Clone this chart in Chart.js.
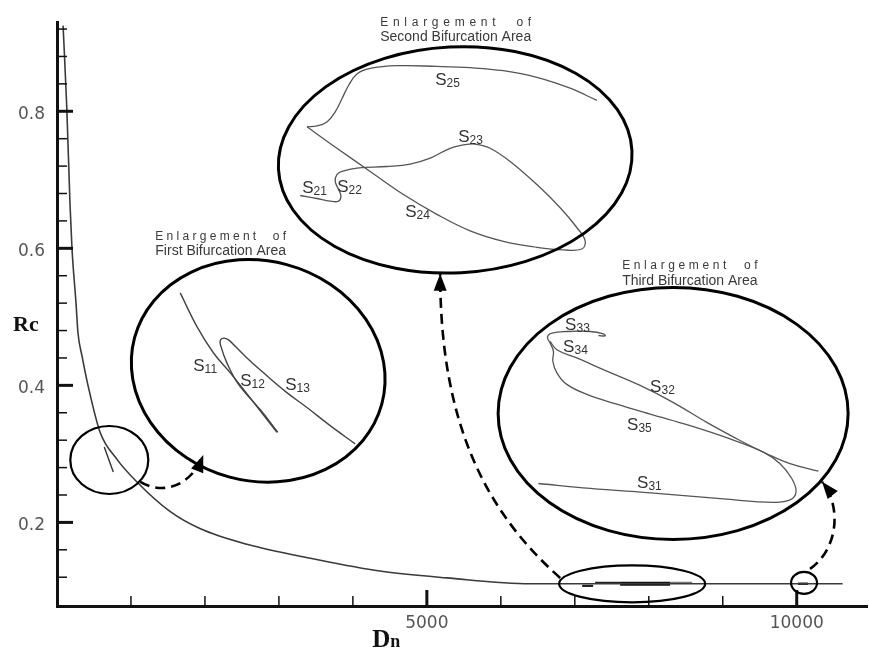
<!DOCTYPE html>
<html>
<head>
<meta charset="utf-8">
<script src="https://cdn.jsdelivr.net/npm/chart.js@4.4.1/dist/chart.umd.min.js"></script>
<style>
  html, body { margin: 0; padding: 0; background: #fff; }
  #wrap { width: 869px; height: 652px; position: relative; }
</style>
</head>
<body>
<div id="wrap"><canvas id="chart"></canvas></div>
<script>
// Critical value Rc against Dn, main branch
const dn = [82, 131, 176, 203, 257, 284, 338, 419, 581, 811, 1081, 1527, 1932, 2568, 3459, 4365, 5270, 6400, 7000, 10620];
const rc = [0.925, 0.809, 0.664, 0.599, 0.520, 0.476, 0.443, 0.400, 0.332, 0.292, 0.259, 0.216, 0.191, 0.168, 0.147, 0.129, 0.119, 0.1104, 0.1104, 0.1104];

// Short side branches on the main curve
const branchFirstDn = [639, 761];
const branchFirstRc = [0.3099, 0.2737];
const branchSecondA = [[7099, 0.1075], [7248, 0.1075]];
const branchSecondB = [[7275, 0.1118], [7613, 0.1118]];
const branchSecondC = [[7613, 0.1104], [8288, 0.1104]];
const branchSecondD = [[8288, 0.1118], [8586, 0.1118]];
const branchThird = [[10018, 0.1104], [10153, 0.1104]];

// Enlarged first bifurcation area (S11, S12, S13)
const s1Main = [[1666, 0.5350], [1892, 0.4858], [2116, 0.4472], [2342, 0.4183], [2522, 0.3942], [2747, 0.3629], [2973, 0.3316]];
const s1Loop = [[2985, 0.3316], [2760, 0.3629], [2454, 0.4014], [2297, 0.4328], [2216, 0.4569], [2207, 0.4656], [2252, 0.4689], [2319, 0.4664], [2410, 0.4569], [2568, 0.4400], [2792, 0.4183], [3108, 0.3894], [3379, 0.3677], [3693, 0.3412], [4031, 0.3146]];

// Enlarged second bifurcation area (S21 ... S25)
const s2Upper = [[3379, 0.7773], [3514, 0.7787], [3649, 0.7845], [3761, 0.7990], [3852, 0.8183], [3941, 0.8376], [4054, 0.8545], [4234, 0.8626], [4595, 0.8665], [5135, 0.8655], [5585, 0.8636], [6035, 0.8592], [6487, 0.8496], [6937, 0.8337], [7298, 0.8159]];
const s2Lower = [[3379, 0.7773], [3784, 0.7460], [4234, 0.7122], [4684, 0.6785], [5135, 0.6496], [5585, 0.6255], [6035, 0.6102], [6487, 0.6015], [6846, 0.5976], [7095, 0.5990], [7140, 0.6110], [7027, 0.6304], [6802, 0.6593], [6487, 0.6930], [6126, 0.7267], [5856, 0.7460], [5676, 0.7518], [5541, 0.7518], [5315, 0.7460], [5045, 0.7316], [4775, 0.7229], [4460, 0.7194], [4054, 0.7171], [3852, 0.7122], [3784, 0.7074], [3761, 0.6977], [3806, 0.6858], [3838, 0.6761], [3806, 0.6688], [3693, 0.6688], [3514, 0.6727], [3288, 0.6771]];

// Enlarged third bifurcation area (S31 ... S35)
const s3Long = [[6508, 0.2568], [7207, 0.2496], [8108, 0.2424], [9009, 0.2343], [9684, 0.2293], [9910, 0.2328], [9991, 0.2448], [9933, 0.2640], [9775, 0.2857], [9549, 0.3026], [9099, 0.3219], [8559, 0.3412], [8018, 0.3580], [7568, 0.3725], [7162, 0.3869], [6892, 0.4014], [6757, 0.4183], [6703, 0.4352], [6711, 0.4497], [6666, 0.4617], [6630, 0.4703], [6690, 0.4761], [6892, 0.4786], [7207, 0.4786], [7387, 0.4751], [7410, 0.4722], [7319, 0.4728]];
const s3Cross = [[6666, 0.4641], [6757, 0.4520], [7027, 0.4400], [7433, 0.4208], [7883, 0.3999], [8333, 0.3749], [8784, 0.3460], [9234, 0.3196], [9595, 0.3002], [9910, 0.2857], [10293, 0.2747]];

// Branch names: [letter, index, Dn, Rc]
const branchNames = [
  ['S', '11', 1842, 0.4212], ['S', '12', 2477, 0.3995], ['S', '13', 3085, 0.3937],
  ['S', '25', 5112, 0.8390], ['S', '23', 5423, 0.7552], ['S', '21', 3315, 0.6814], ['S', '22', 3788, 0.6829], ['S', '24', 4707, 0.6453],
  ['S', '33', 6869, 0.4805], ['S', '34', 6842, 0.4487], ['S', '32', 8018, 0.3908], ['S', '35', 7707, 0.3345], ['S', '31', 7842, 0.2506]
];

// Axis ticks
const xMajor = [5000, 10000];
const xMinor = [1000, 2000, 3000, 4000, 6000, 7000, 8000, 9000];
const yMajor = [0.2, 0.4, 0.6, 0.8];
const yMinor = [0.12, 0.16, 0.24, 0.28, 0.32, 0.36, 0.44, 0.48, 0.52, 0.56, 0.64, 0.68, 0.72, 0.76, 0.84, 0.88, 0.92];

// Outlines of the marked and enlarged regions (centre in Dn/Rc, radii in px)
const outlines = [
  { dn: 707, rc: 0.2911, rx: 39, ry: 34, rot: 0, w: 2.2 },
  { dn: 2720, rc: 0.4212, rx: 128, ry: 110, rot: 15, w: 3 },
  { dn: 5383, rc: 0.7291, rx: 177, ry: 113, rot: -3, w: 3 },
  { dn: 8329, rc: 0.3590, rx: 175, ry: 126, rot: 0, w: 3 },
  { dn: 7775, rc: 0.1104, rx: 73, ry: 18.5, rot: 0, w: 2.2 },
  { dn: 10099, rc: 0.1118, rx: 13, ry: 11, rot: 0, w: 2.2 }
];

// Dashed pointers from each marked region to its enlargement (cubic, Dn/Rc)
const pointers = [
  [[1126, 0.2593], [1464, 0.2376], [1829, 0.2564], [1977, 0.2983]],
  [[6802, 0.1190], [5788, 0.2159], [5180, 0.3460], [5180, 0.5629]],
  [[10180, 0.1321], [10559, 0.1610], [10613, 0.2231], [10342, 0.2593]]
];

const captions = [
  { dn: 1329, rc1: 0.6120, rc2: 0.5903, first: 'Enlargement  of', second: 'First Bifurcation Area' },
  { dn: 4369, rc1: 0.9243, rc2: 0.9026, first: 'Enlargement  of', second: 'Second Bifurcation Area' },
  { dn: 7640, rc1: 0.5701, rc2: 0.5470, first: 'Enlargement  of', second: 'Third Bifurcation Area' }
];

const toXY = arr => arr.map(p => ({ x: p[0], y: p[1] }));
const thin = (data, extra) => Object.assign({
  data: toXY(data), borderColor: '#555', borderWidth: 1.3, pointRadius: 0, tension: 0.4, fill: false
}, extra || {});

const datasets = [
  {
    data: dn.map((v, i) => ({ x: v, y: rc[i] })),
    borderColor: '#3a3a3a', borderWidth: 1.6, pointRadius: 0, fill: false,
    cubicInterpolationMode: 'monotone'
  },
  {
    data: branchFirstDn.map((v, i) => ({ x: v, y: branchFirstRc[i] })),
    borderColor: '#333', borderWidth: 1.4, pointRadius: 0, tension: 0
  },
  thin(branchSecondA, { borderColor: '#222', borderWidth: 2.2, tension: 0 }),
  thin(branchSecondB, { borderColor: '#222', borderWidth: 2.2, tension: 0 }),
  thin(branchSecondC, { borderColor: '#111', borderWidth: 4, tension: 0 }),
  thin(branchSecondD, { borderColor: '#777', borderWidth: 2.2, tension: 0 }),
  thin(branchThird, { borderColor: '#222', borderWidth: 2.4, tension: 0 }),
  thin(s1Main, { borderColor: '#444', borderWidth: 1.4 }),
  thin(s1Loop, { borderColor: '#444', borderWidth: 1.4 }),
  thin(s2Upper),
  thin(s2Lower),
  thin(s3Long),
  thin(s3Cross)
];

function spacedText(ctx, text, x, y, width) {
  const widths = [...text].map(ch => ctx.measureText(ch).width);
  const total = widths.reduce((a, b) => a + b, 0);
  const gap = (width - total) / (text.length - 1);
  let cx = x;
  [...text].forEach((ch, i) => { ctx.fillText(ch, cx, y); cx += widths[i] + gap; });
}

const overlay = {
  id: 'overlay',
  afterDatasetsDraw(chart) {
    const { ctx, chartArea: area, scales } = chart;
    const px = v => scales.x.getPixelForValue(v);
    const py = v => scales.y.getPixelForValue(v);
    ctx.save();

    // inward tick marks
    ctx.strokeStyle = '#111';
    const tick = (x1, y1, x2, y2, w) => { ctx.lineWidth = w; ctx.beginPath(); ctx.moveTo(x1, y1); ctx.lineTo(x2, y2); ctx.stroke(); };
    yMajor.forEach(v => tick(area.left, py(v), area.left + 16, py(v), 3));
    yMinor.forEach(v => tick(area.left, py(v), area.left + 10, py(v), 1.5));
    xMajor.forEach(v => tick(px(v), area.bottom, px(v), area.bottom - 16, 3));
    xMinor.forEach(v => tick(px(v), area.bottom, px(v), area.bottom - 10, 1.5));

    // outlines
    ctx.strokeStyle = '#000';
    outlines.forEach(o => {
      ctx.lineWidth = o.w;
      ctx.beginPath();
      ctx.ellipse(px(o.dn), py(o.rc), o.rx, o.ry, o.rot * Math.PI / 180, 0, Math.PI * 2);
      ctx.stroke();
    });

    // dashed pointers with arrow heads
    pointers.forEach(p => {
      const q = p.map(a => [px(a[0]), py(a[1])]);
      ctx.lineWidth = 2.6;
      ctx.setLineDash([10, 6]);
      ctx.beginPath();
      ctx.moveTo(q[0][0], q[0][1]);
      ctx.bezierCurveTo(q[1][0], q[1][1], q[2][0], q[2][1], q[3][0], q[3][1]);
      ctx.stroke();
      ctx.setLineDash([]);
      const ang = Math.atan2(q[3][1] - q[2][1], q[3][0] - q[2][0]);
      const L = 17, H = 6.5;
      const bx = q[3][0] - L * Math.cos(ang), by = q[3][1] - L * Math.sin(ang);
      ctx.fillStyle = '#000';
      ctx.beginPath();
      ctx.moveTo(q[3][0], q[3][1]);
      ctx.lineTo(bx + H * Math.sin(ang), by - H * Math.cos(ang));
      ctx.lineTo(bx - H * Math.sin(ang), by + H * Math.cos(ang));
      ctx.closePath();
      ctx.fill();
    });

    // branch names
    ctx.fillStyle = '#333';
    ctx.textBaseline = 'alphabetic';
    ctx.textAlign = 'left';
    branchNames.forEach(b => {
      const x = px(b[2]), y = py(b[3]);
      ctx.font = '17px "Liberation Sans", Arial, sans-serif';
      ctx.fillText(b[0], x, y);
      const w = ctx.measureText(b[0]).width;
      ctx.font = '12px "Liberation Sans", Arial, sans-serif';
      ctx.fillText(b[1], x + w, y + 2);
    });

    // captions above each enlargement
    ctx.fillStyle = '#3a3a3a';
    captions.forEach(c => {
      const x = px(c.dn);
      ctx.font = '14px "Liberation Sans", Arial, sans-serif';
      const w = ctx.measureText(c.second).width;
      ctx.fillText(c.second, x, py(c.rc2));
      ctx.font = '12px "Liberation Sans", Arial, sans-serif';
      spacedText(ctx, c.first, x, py(c.rc1), w);
    });

    // axis titles
    ctx.fillStyle = '#111';
    ctx.font = 'bold 22px "Liberation Serif", "Times New Roman", serif';
    ctx.fillText('Rc', 13, py(0.479));
    const dx = px(4261), dy = area.bottom + 41;
    ctx.font = 'bold 25px "Liberation Serif", "Times New Roman", serif';
    ctx.fillText('D', dx, dy);
    const dw = ctx.measureText('D').width;
    ctx.font = 'bold 18px "Liberation Serif", "Times New Roman", serif';
    ctx.fillText('n', dx + dw, dy);

    ctx.restore();
  }
};

new Chart(document.getElementById('chart'), {
  type: 'line',
  data: { datasets },
  options: {
    responsive: true,
    maintainAspectRatio: false,
    devicePixelRatio: 1,
    animation: false,
    events: [],
    layout: { padding: { left: 0, right: 2, top: 16, bottom: 0 } },
    plugins: { legend: { display: false }, tooltip: { enabled: false } },
    scales: {
      x: {
        type: 'linear', min: 0, max: 10950,
        afterFit: s => { s.height = 46; },
        afterBuildTicks: s => { s.ticks = xMajor.map(v => ({ value: v })); },
        grid: { display: false, drawTicks: false },
        border: { display: true, color: '#111', width: 3 },
        ticks: {
          padding: 7, color: '#555',
          font: { family: 'DejaVu Sans', size: 17 },
          callback: v => String(v)
        }
      },
      y: {
        type: 'linear', min: 0.078, max: 0.93,
        afterFit: s => { s.width = 57; },
        afterBuildTicks: s => { s.ticks = yMajor.map(v => ({ value: v })); },
        grid: { display: false, drawTicks: false },
        border: { display: true, color: '#111', width: 3 },
        ticks: {
          padding: 12, color: '#555', labelOffset: 3,
          font: { family: 'DejaVu Sans', size: 17 },
          callback: v => v.toFixed(1)
        }
      }
    }
  },
  plugins: [overlay]
});
</script>
</body>
</html>
